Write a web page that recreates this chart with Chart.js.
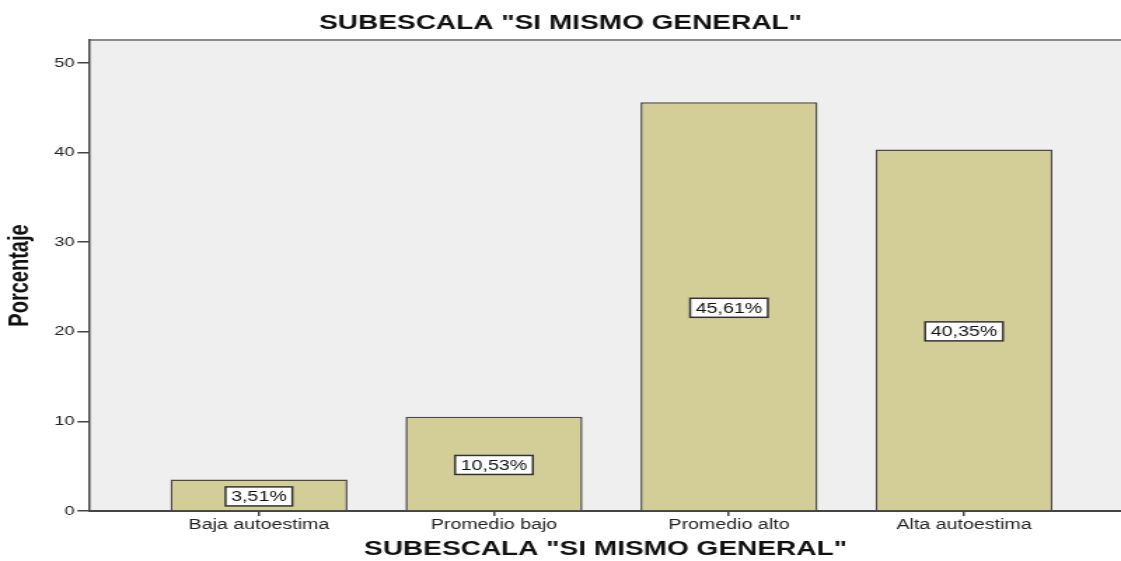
<!DOCTYPE html>
<html>
<head>
  <meta charset="utf-8">
  <script src="https://cdn.jsdelivr.net/npm/chart.js@4.4.0/dist/chart.umd.min.js"></script>
  <style>
    html, body {
      margin: 0;
      padding: 0;
      background: white;
      overflow: hidden;
    }
  </style>
</head>
<body>
  <!-- the original export is stretched sideways, so the canvas is drawn narrow and widened -->
  <canvas id="chartCanvas" width="800" height="561" style="display:block;width:1121px;height:561px"></canvas>
  <script>
    const chartTitle = 'SUBESCALA "SI MISMO GENERAL"';
    const categories = ['Baja autoestima', 'Promedio bajo', 'Promedio alto', 'Alta autoestima'];
    const percentages = [3.51, 10.53, 45.61, 40.35];
    const yTicks = [0, 10, 20, 30, 40, 50];

    const barFill = '#d3cd97';
    const barEdge = '#4a4a44';
    const axisColor = '#444444';

    // Plot background and the grey frame line on top (runs on to the right edge)
    const plotFrame = {
      id: 'plotFrame',
      beforeDraw(chart) {
        const { ctx, chartArea } = chart;
        const right = chart.width;
        ctx.save();
        ctx.fillStyle = '#efefef';
        ctx.fillRect(chartArea.left, chartArea.top, right - chartArea.left, chartArea.bottom - chartArea.top);
        ctx.strokeStyle = '#8a8a8a';
        ctx.lineWidth = 2;
        ctx.beginPath();
        ctx.moveTo(chartArea.left, chartArea.top);
        ctx.lineTo(right, chartArea.top);
        ctx.stroke();
        ctx.strokeStyle = axisColor;
        ctx.beginPath();
        ctx.moveTo(chartArea.left, chartArea.bottom);
        ctx.lineTo(right, chartArea.bottom);
        ctx.stroke();
        ctx.restore();
      }
    };

    // Boxed percentage labels in the middle of each bar
    const boxedLabels = {
      id: 'boxedLabels',
      afterDatasetsDraw(chart) {
        const { ctx } = chart;
        const meta = chart.getDatasetMeta(0);
        ctx.save();
        ctx.font = '14px "Liberation Sans", Arial, sans-serif';
        ctx.textAlign = 'center';
        ctx.textBaseline = 'middle';
        meta.data.forEach((bar, i) => {
          const text = percentages[i].toFixed(2).replace('.', ',') + '%';
          const w = ctx.measureText(text).width + 8;
          const h = 19;
          const cx = bar.x;
          const cy = (bar.y + bar.base) / 2 + 1.5;
          ctx.fillStyle = '#ffffff';
          ctx.fillRect(cx - w / 2, cy - h / 2, w, h);
          ctx.strokeStyle = '#333333';
          ctx.lineWidth = 1.5;
          ctx.strokeRect(cx - w / 2, cy - h / 2, w, h);
          ctx.fillStyle = '#111111';
          ctx.fillText(text, cx, cy + 1);
        });
        ctx.restore();
      }
    };

    const config = {
      type: 'bar',
      data: {
        datasets: [{
          label: 'Porcentaje',
          data: percentages.map((v, i) => ({ x: i, y: v })),
          backgroundColor: barFill,
          borderColor: barEdge,
          borderWidth: 1.5,
          borderSkipped: 'bottom',
          categoryPercentage: 1,
          barPercentage: 0.753
        }]
      },
      options: {
        responsive: false,
        animation: false,
        devicePixelRatio: 1,
        layout: { padding: 0 },
        plugins: {
          legend: { display: false },
          tooltip: { enabled: false },
          title: {
            display: true,
            text: chartTitle,
            color: '#111111',
            font: { family: '"Liberation Sans", Arial, sans-serif', size: 20, weight: 'bold' },
            padding: { top: 11, bottom: 5 }
          }
        },
        scales: {
          x: {
            type: 'linear',
            position: 'bottom',
            offset: false,
            min: -0.719,
            max: 3.668,
            afterBuildTicks: (scale) => {
              scale.ticks = categories.map((c, i) => ({ value: i }));
            },
            afterFit: (scale) => { scale.height = 50; },
            ticks: {
              autoSkip: false,
              maxRotation: 0,
              padding: 1,
              color: '#222222',
              font: { family: '"Liberation Sans", Arial, sans-serif', size: 14 },
              callback: (v) => categories[v]
            },
            grid: {
              offset: false,
              drawOnChartArea: false,
              drawTicks: true,
              tickLength: 5,
              color: axisColor,
              lineWidth: 1.5
            },
            border: { display: true, color: axisColor, width: 2 },
            title: {
              display: true,
              text: chartTitle,
              color: '#111111',
              font: { family: '"Liberation Sans", Arial, sans-serif', size: 20, weight: 'bold' },
              padding: 0
            }
          },
          y: {
            min: 0,
            max: 52.57,
            afterBuildTicks: (scale) => {
              scale.ticks = yTicks.map(v => ({ value: v }));
            },
            afterFit: (scale) => { scale.width = 64.2; },
            ticks: {
              padding: 2,
              color: '#222222',
              font: { family: '"Liberation Sans", Arial, sans-serif', size: 13 }
            },
            grid: {
              drawOnChartArea: false,
              drawTicks: true,
              tickLength: 9,
              color: axisColor,
              lineWidth: 1.5
            },
            border: { display: true, color: axisColor, width: 1.5 },
            title: {
              display: true,
              text: 'Porcentaje',
              color: '#111111',
              font: { family: '"Liberation Sans Narrow", "Liberation Sans", Arial, sans-serif', size: 20, weight: 'bold' },
              padding: { top: 2, bottom: 0 }
            }
          }
        }
      },
      plugins: [plotFrame, boxedLabels]
    };

    new Chart(document.getElementById('chartCanvas').getContext('2d'), config);
  </script>
</body>
</html>
